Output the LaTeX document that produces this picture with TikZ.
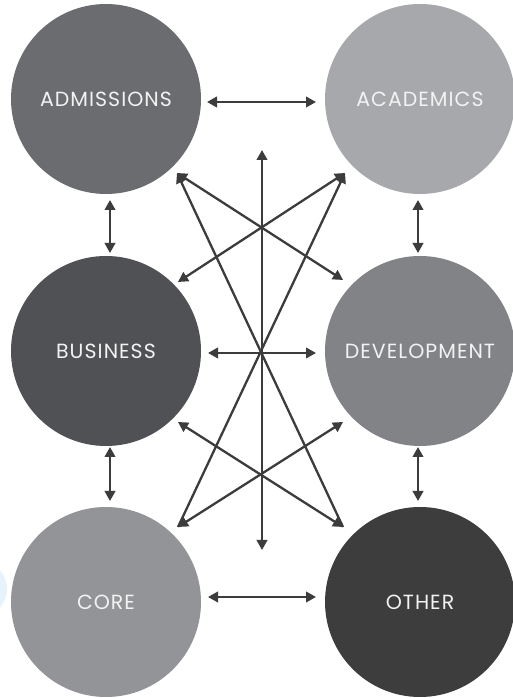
\documentclass[tikz,border=0pt]{standalone}
\usepackage{fontspec}
\setmainfont{Poppins}
\newfontfamily\lbl{Poppins}[LetterSpace=5]
\usetikzlibrary{arrows.meta}
\definecolor{cadm}{HTML}{6B6C70}
\definecolor{caca}{HTML}{A7A8AB}
\definecolor{cbus}{HTML}{505154}
\definecolor{cdev}{HTML}{828387}
\definecolor{ccore}{HTML}{939497}
\definecolor{coth}{HTML}{3D3D3D}
\definecolor{carrow}{HTML}{3C3C3C}
\definecolor{cblue}{HTML}{E6F3FA}
\definecolor{ctext}{HTML}{F2F2F2}
\tikzset{
  bubble/.style={circle, minimum size=190pt, inner sep=0pt, text=ctext, font=\lbl\fontsize{20.5}{24}\selectfont},
  link/.style={carrow, line width=2.3pt, {Triangle[length=10pt,width=10.5pt]}-{Triangle[length=10pt,width=10.5pt]}},
  onelink/.style={carrow, line width=2.3pt, -{Triangle[length=10pt,width=10.5pt]}}
}
\begin{document}
\begin{tikzpicture}[x=1pt,y=1pt]
\useasboundingbox (0,0) rectangle (513,698);
\fill[white] (0,0) rectangle (513,698);
\fill[cblue] (-21,109) circle (28);
\node[bubble, fill=cadm] (adm) at (106,599) {ADMISSIONS};
\node[bubble, fill=caca] (aca) at (420,599) {ACADEMICS};
\node[bubble, fill=cbus] (bus) at (106,347) {BUSINESS};
\node[bubble, fill=cdev] (dev) at (420,347) {DEVELOPMENT};
\node[bubble, fill=ccore] (core) at (106,96) {CORE};
\node[bubble, fill=coth] (oth) at (420,96) {OTHER};
% endpoints
\coordinate (h1a) at (207,596); \coordinate (h1b) at (316,596);
\coordinate (h2a) at (208,345); \coordinate (h2b) at (316,345);
\coordinate (h3a) at (208,101); \coordinate (h3b) at (316,101);
\coordinate (v1a) at (110,498); \coordinate (v1b) at (110,445);
\coordinate (v2a) at (418,498); \coordinate (v2b) at (418,445);
\coordinate (v3a) at (110,251); \coordinate (v3b) at (110,197);
\coordinate (v4a) at (418,251); \coordinate (v4b) at (418,197);
\coordinate (ctop) at (262,548); \coordinate (cbot) at (262,148);
\coordinate (ad) at (177,525); \coordinate (ac) at (345,525);
\coordinate (bu) at (178,416); \coordinate (de) at (343,418);
\coordinate (bu2) at (178,276); \coordinate (de2) at (343,276);
\coordinate (co) at (178,171); \coordinate (ot) at (343,171);
\draw[link] (h1a) -- (h1b);
\draw[link] (h2a) -- (h2b);
\draw[link] (h3a) -- (h3b);
\draw[link] (v1a) -- (v1b);
\draw[link] (v2a) -- (v2b);
\draw[link] (v3a) -- (v3b);
\draw[link] (v4a) -- (v4b);
\draw[link] (ctop) -- (cbot);
\draw[link] (ad) -- (de);
\draw[link] (ac) -- (bu);
\draw[onelink] (ot) -- (ad);
\draw[onelink] (co) -- (ac);
\draw[link] (bu2) -- (ot);
\draw[link] (de2) -- (co);
\end{tikzpicture}
\end{document}
